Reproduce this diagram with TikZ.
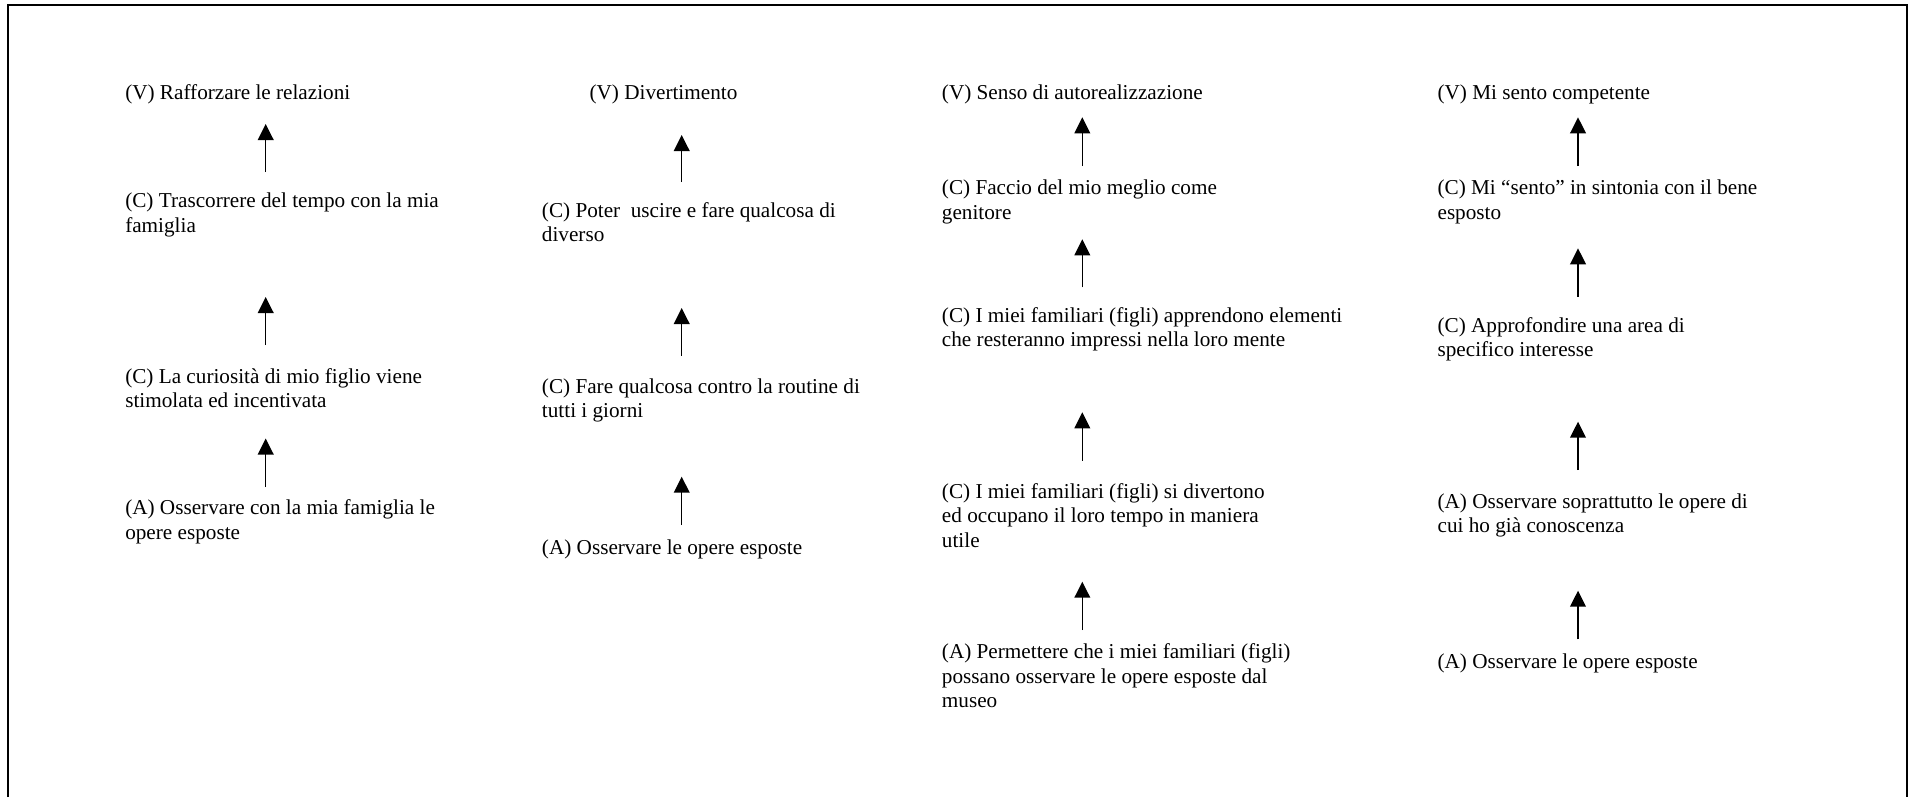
\documentclass[tikz,border=0pt]{standalone}
\usepackage{fontspec}
\setmainfont{Liberation Serif}
\usetikzlibrary{arrows.meta}
\begin{document}
\begin{tikzpicture}[x=0.75pt,y=-0.75pt,
  lbl/.style={anchor=base west,inner sep=0pt,align=left,
    font=\fontsize{15.9}{18.3}\selectfont},
  arr/.style={-{Triangle[length=12pt,width=11.8pt]},line width=1.1pt},
  frame/.style={line width=1.5pt}]
\useasboundingbox (0,0) rectangle (1908,797);
% open frame (no bottom edge)
\draw[frame] (8.3,797) -- (8.3,5) -- (1906.5,5) -- (1906.5,797);

% labels: the base anchor of a multi-line label sits on its last line
% ---- chain 1 ----
\node[lbl] (v1) at (125,99) {(V) Rafforzare le relazioni};
\node[lbl] (c11) at (125,232) {(C) Trascorrere del tempo con la mia\\famiglia};
\node[lbl] (c12) at (125,407.7) {(C) La curiosità di mio figlio viene\\stimolata ed incentivata};
\node[lbl] (a1) at (125,539) {(A) Osservare con la mia famiglia le\\opere esposte};
\coordinate (p11) at (265.7,172); \coordinate (q11) at (265.7,124);
\coordinate (p12) at (265.7,345); \coordinate (q12) at (265.7,297);
\coordinate (p13) at (265.7,487); \coordinate (q13) at (265.7,438.5);
\draw[arr] (p11) -- (q11);
\draw[arr] (p12) -- (q12);
\draw[arr] (p13) -- (q13);

% ---- chain 2 ----
\node[lbl] (v2) at (589.3,99) {(V) Divertimento};
\node[lbl] (c21) at (541.7,241.7) {(C) Poter~ uscire e fare qualcosa di\\diverso};
\node[lbl] (c22) at (541.7,417.7) {(C) Fare qualcosa contro la routine di\\tutti i giorni};
\node[lbl] (a2) at (541.7,554) {(A) Osservare le opere esposte};
\coordinate (p21) at (681.7,182); \coordinate (q21) at (681.7,135);
\coordinate (p22) at (681.7,355.7); \coordinate (q22) at (681.7,308);
\coordinate (p23) at (681.7,525); \coordinate (q23) at (681.7,476.7);
\draw[arr] (p21) -- (q21);
\draw[arr] (p22) -- (q22);
\draw[arr] (p23) -- (q23);

% ---- chain 3 ----
\node[lbl] (v3) at (941.7,99) {(V) Senso di autorealizzazione};
\node[lbl] (c31) at (941.7,219.3) {(C) Faccio del mio meglio come\\genitore};
\node[lbl] (c32) at (941.7,346.7) {(C) I miei familiari (figli) apprendono elementi\\che resteranno impressi nella loro mente};
\node[lbl] (c33) at (941.7,547.3) {(C) I miei familiari (figli) si divertono\\ed occupano il loro tempo in maniera\\utile};
\node[lbl] (a3) at (941.7,707.7) {(A) Permettere che i miei familiari (figli)\\possano osservare le opere esposte dal\\museo};
\coordinate (p31) at (1082.3,166); \coordinate (q31) at (1082.3,117.3);
\coordinate (p32) at (1082.3,287.3); \coordinate (q32) at (1082.3,239.3);
\coordinate (p33) at (1082.3,460.7); \coordinate (q33) at (1082.3,412.3);
\coordinate (p34) at (1082.3,630); \coordinate (q34) at (1082.3,581.7);
\draw[arr] (p31) -- (q31);
\draw[arr] (p32) -- (q32);
\draw[arr] (p33) -- (q33);
\draw[arr] (p34) -- (q34);

% ---- chain 4 ----
\node[lbl] (v4) at (1437.3,99) {(V) Mi sento competente};
\node[lbl] (c41) at (1437.3,219.3) {(C) Mi “sento” in sintonia con il bene\\esposto};
\node[lbl] (c42) at (1437.3,356.7) {(C) Approfondire una area di\\specifico interesse};
\node[lbl] (a41) at (1437.3,532.7) {(A) Osservare soprattutto le opere di\\cui ho già conoscenza};
\node[lbl] (a42) at (1437.3,668.3) {(A) Osservare le opere esposte};
\coordinate (p41) at (1578,166); \coordinate (q41) at (1578,117.3);
\coordinate (p42) at (1578,296.7); \coordinate (q42) at (1578,248.3);
\coordinate (p43) at (1578,470); \coordinate (q43) at (1578,421.7);
\coordinate (p44) at (1578,639.3); \coordinate (q44) at (1578,590.7);
\draw[arr] (p41) -- (q41);
\draw[arr] (p42) -- (q42);
\draw[arr] (p43) -- (q43);
\draw[arr] (p44) -- (q44);
\end{tikzpicture}
\end{document}
